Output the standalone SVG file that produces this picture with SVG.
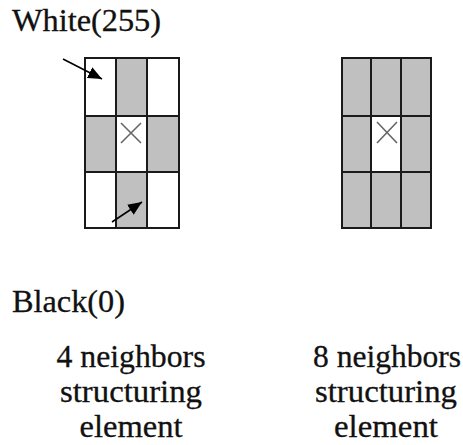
<svg xmlns="http://www.w3.org/2000/svg" width="463" height="445" viewBox="0 0 463 445">
<style>
text{font-family:'Liberation Serif','Times New Roman',Times,serif;font-size:31px;fill:#111;stroke:#111;stroke-width:0.3}
.m{text-anchor:middle}
.g{fill:#c0c0c0;stroke:none}
.w{fill:#fff;stroke:none}
.grid{stroke:#1a1a1a;stroke-width:2;fill:none}
.x{stroke:#666;stroke-width:1.6;fill:none}
.arr{stroke:#000;stroke-width:1.6;fill:none;marker-end:url(#ah)}
</style>
<defs>
<marker id="ah" viewBox="0 0 14 12" refX="14" refY="6" markerWidth="14" markerHeight="12" markerUnits="userSpaceOnUse" orient="auto">
<path d="M0,0 L14,6 L0,12 z" fill="#000"/>
</marker>
</defs>
<rect width="463" height="445" fill="#fff"/>
<g id="label-white"><text x="12" y="31" textLength="149" lengthAdjust="spacingAndGlyphs">White(255)</text></g>
<g id="label-black"><text x="12" y="312" textLength="113" lengthAdjust="spacingAndGlyphs">Black(0)</text></g>
<g id="grid4">
<rect class="w" x="85" y="58" width="94" height="170"/>
<rect class="g" x="116" y="58" width="31" height="58"/>
<rect class="g" x="85" y="116" width="31" height="56"/>
<rect class="g" x="147" y="116" width="32" height="56"/>
<rect class="g" x="116" y="172" width="31" height="56"/>
<path class="grid" d="M85,58H179V228H85Z M116,58V228 M147,58V228 M85,116H179 M85,172H179"/>
<path class="x" d="M121,123L141,143 M141,123L121,143"/>
</g>
<g id="grid8">
<rect class="g" x="342" y="58" width="89" height="170"/>
<rect class="w" x="371" y="116" width="30" height="56"/>
<path class="grid" d="M342,58H431V228H342Z M371,58V228 M401,58V228 M342,116H431 M342,172H431"/>
<path class="x" d="M377,122L397,143 M397,122L377,143"/>
</g>
<g id="connectors">
<line class="arr" x1="63" y1="59" x2="102" y2="79"/>
<line class="arr" x1="112" y1="222" x2="142" y2="202"/>
</g>
<g id="caption4">
<text class="m" x="131" y="367" textLength="149" lengthAdjust="spacingAndGlyphs">4 neighbors</text>
<text class="m" x="131" y="402" textLength="142" lengthAdjust="spacingAndGlyphs">structuring</text>
<text class="m" x="131" y="437" textLength="103" lengthAdjust="spacingAndGlyphs">element</text>
</g>
<g id="caption8">
<text class="m" x="387" y="367" textLength="148" lengthAdjust="spacingAndGlyphs">8 neighbors</text>
<text class="m" x="386" y="402" textLength="142" lengthAdjust="spacingAndGlyphs">structuring</text>
<text class="m" x="386" y="437" textLength="104" lengthAdjust="spacingAndGlyphs">element</text>
</g>
</svg>
